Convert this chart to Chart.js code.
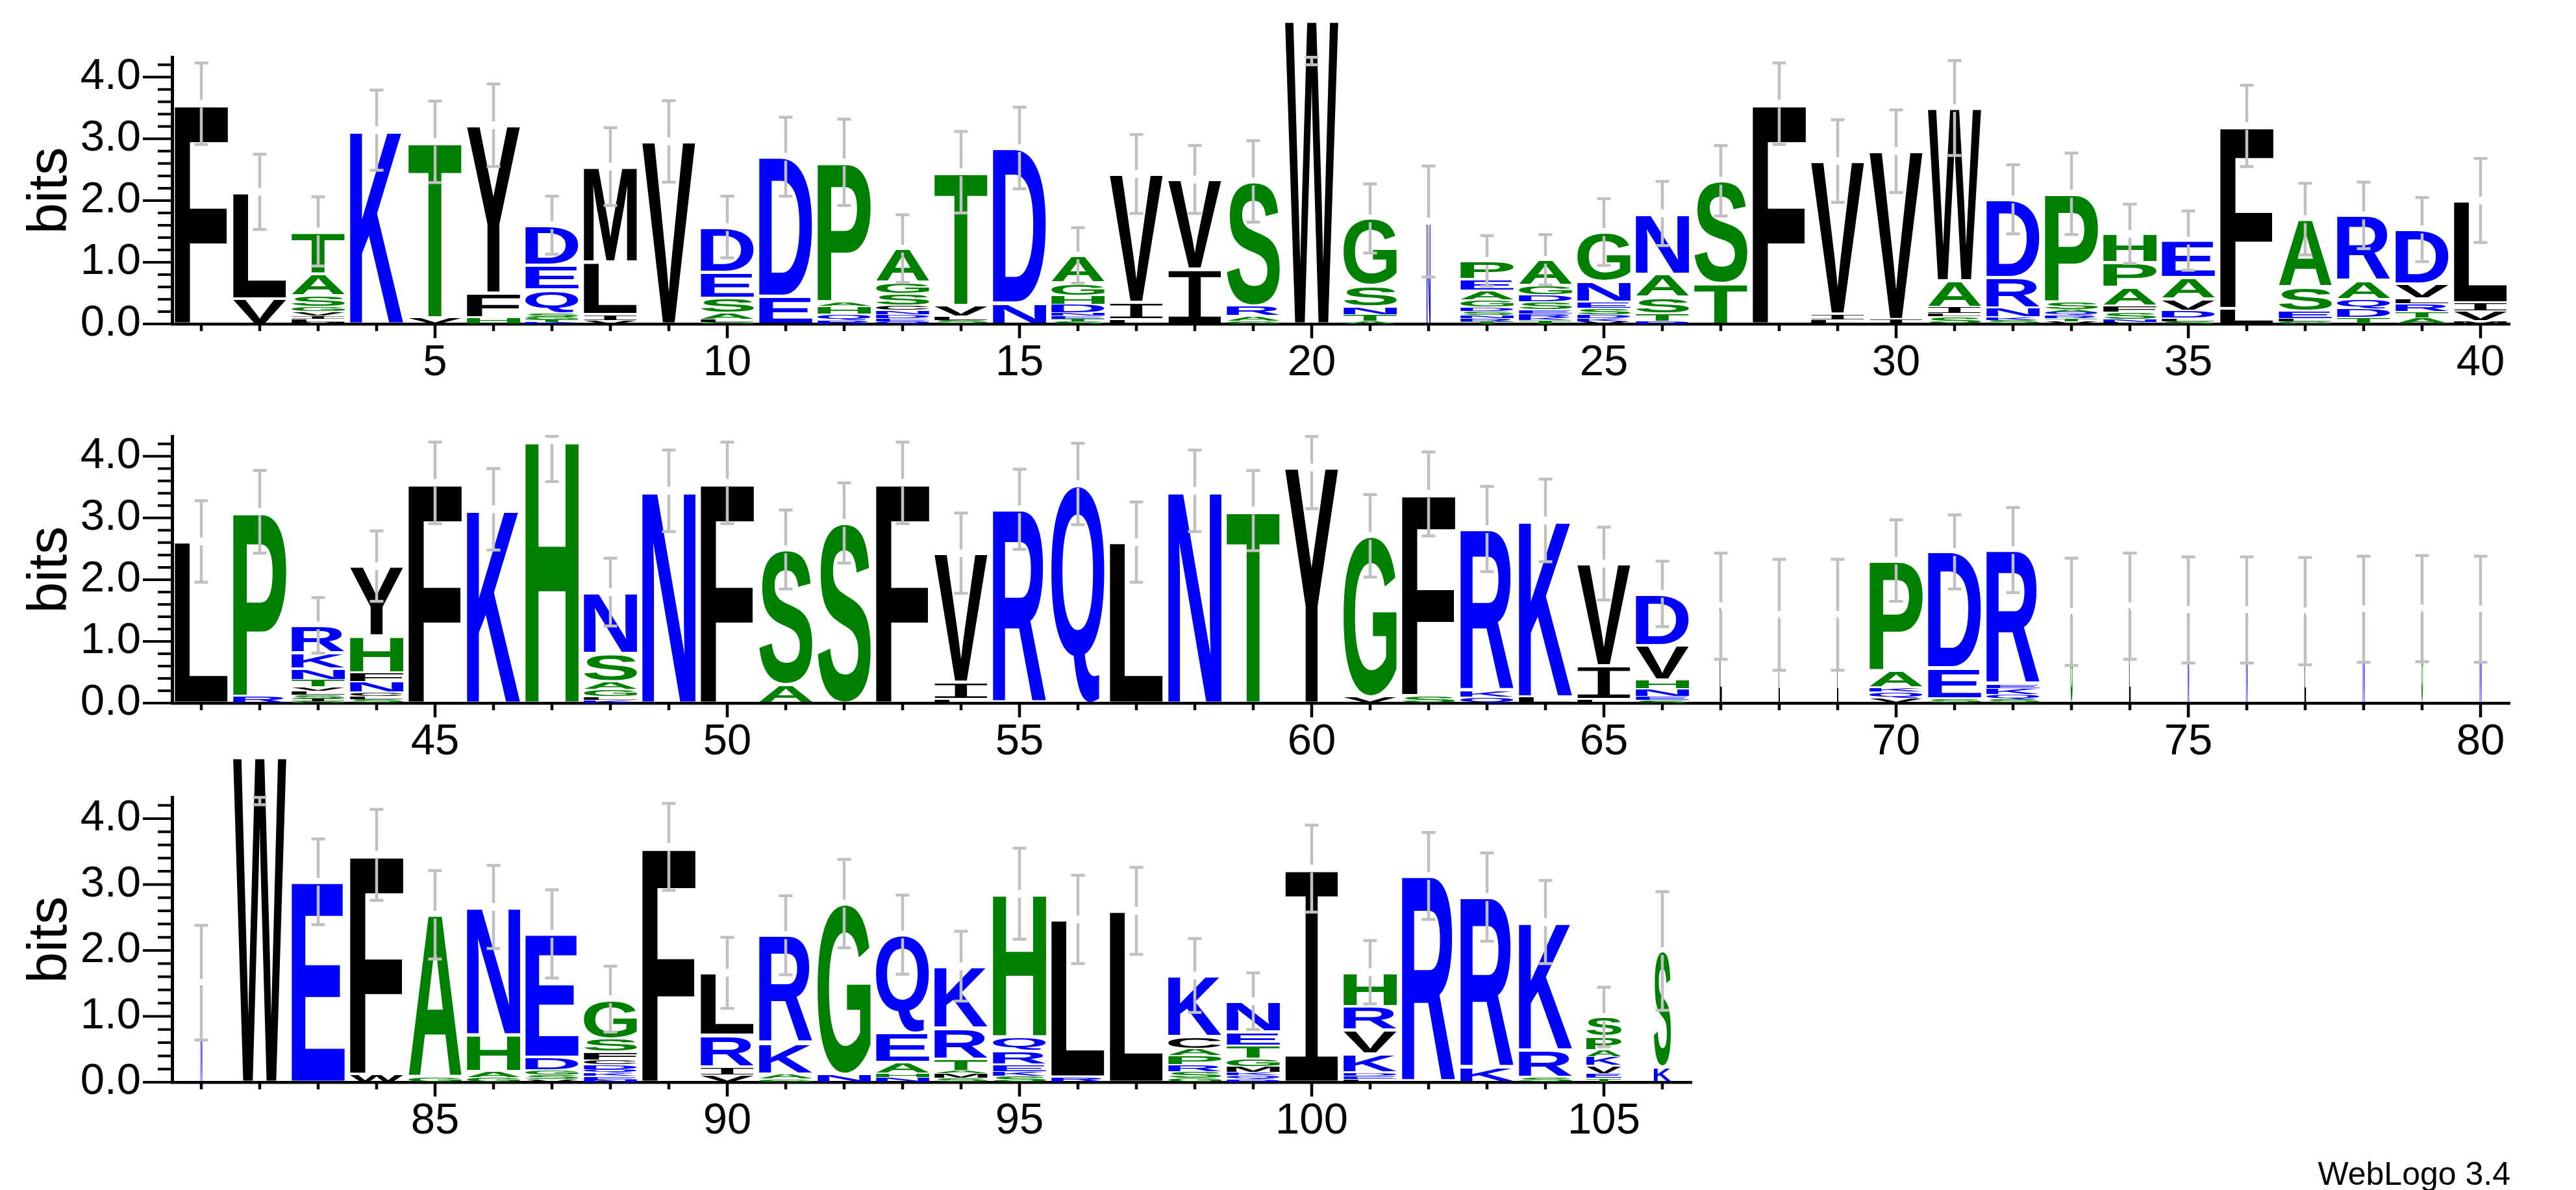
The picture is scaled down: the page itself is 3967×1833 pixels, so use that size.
<!DOCTYPE html>
<html>
<head>
<meta charset="utf-8">
<script src="https://cdn.jsdelivr.net/npm/chart.js@4.4.1/dist/chart.umd.min.js"></script>
<style>
  html, body { margin: 0; padding: 0; background: #fff; }
  #page { position: relative; width: 3967px; height: 1833px; overflow: hidden; background: #fff; }
  canvas { position: absolute; left: 0; }
  #credit {
    position: absolute; right: 101px; top: 1783px;
    font: 50px "Liberation Sans", Arial, sans-serif; line-height: 1; color: #000;
  }
</style>
</head>
<body>
<div id="page">
  <canvas id="row1" width="3967" height="600" style="top:0px"></canvas>
  <canvas id="row2" width="3967" height="600" style="top:584px"></canvas>
  <canvas id="row3" width="3967" height="693" style="top:1140px"></canvas>
  <div id="credit">WebLogo 3.4</div>
</div>
<script>
// residues of each column, bottom of the stack first
const residues = [
  "F", "VL", "MLIVGSAT", "K", "VT", "HFY", "KTGSQED", "VILM", "V", "GLASED",
  "ED", "RQHAP", "QEDNCSGA", "SLVT", "ND", "STENDHGA", "LIV", "IV", "GARS", "W",
  "ATNSG", "N", "TRNSDGAEP", "TKRESDGA", "VKDSENG", "DTSAN", "TS", "F", "LIV", "IV",
  "SLIAW", "SKNRD", "VTRQASP", "LNSFAPH", "SLDVAE", "LF", "GLESA", "TDQAR", "ATRLVD", "MVIL",
  "L", "RP", "GISLVTNKR", "SLCNFHY", "F", "K", "H", "KLGASN", "N", "F",
  "AS", "S", "F", "LIV", "R", "Q", "L", "N", "T", "Y",
  "VG", "SF", "QKR", "LK", "LIV", "SENHVD", "L", "L", "L", "VQKAP",
  "SED", "SQKER", "G", "L", "N", "N", "L", "N", "G", "N",
  "N", "W", "E", "WF", "GA", "GAHN", "VSGDE", "NEKQDCFSG", "F", "VIRL",
  "GAKR", "NG", "NHAEQ", "SMATRK", "SKERQH", "RL", "L", "GSRPACK", "DQKMGTEN", "I",
  "LEDKVRH", "R", "KR", "SRK", "TEVKAPS", "KS"
];

// information (bits) of each residue, same order as above
const bits = [
  [3.57], [0.41, 1.73], [0.03, 0.05, 0.05, 0.07, 0.08, 0.18, 0.36, 0.68], [3.14], [0.1, 2.85],
  [0.1, 0.4, 2.72], [0.03, 0.04, 0.04, 0.06, 0.38, 0.4, 0.65], [0.06, 0.09, 0.85, 1.55], [2.96], [0.03, 0.05, 0.1, 0.24, 0.42, 0.73],
  [0.45, 2.26], [0.06, 0.1, 0.13, 0.07, 2.26], [0.04, 0.05, 0.06, 0.07, 0.08, 0.19, 0.18, 0.55], [0.06, 0.06, 0.18, 2.16], [0.34, 2.51],
  [0.04, 0.04, 0.05, 0.05, 0.14, 0.14, 0.2, 0.45], [0.07, 0.28, 2.08], [0.89, 1.45], [0.05, 0.08, 0.16, 2.02], [4.92],
  [0.04, 0.11, 0.13, 0.34, 1.09], [1.66], [0.04, 0.05, 0.05, 0.06, 0.07, 0.12, 0.15, 0.18, 0.3], [0.06, 0.04, 0.06, 0.07, 0.13, 0.11, 0.15, 0.42], [0.04, 0.05, 0.06, 0.1, 0.1, 0.34, 0.8],
  [0.04, 0.12, 0.27, 0.38, 0.98], [0.66, 1.66], [3.57], [0.07, 0.09, 2.48], [0.07, 2.73],
  [0.12, 0.05, 0.1, 0.43, 2.8], [0.06, 0.05, 0.14, 0.5, 1.27], [0.04, 0.05, 0.05, 0.05, 0.04, 0.13, 1.75], [0.03, 0.04, 0.12, 0.1, 0.3, 0.4, 0.47], [0.04, 0.05, 0.13, 0.18, 0.35, 0.6],
  [0.25, 2.96], [0.04, 0.04, 0.12, 0.4, 1.1], [0.1, 0.14, 0.16, 0.3, 1.06], [0.1, 0.1, 0.13, 0.08, 0.24, 0.88], [0.05, 0.16, 0.13, 1.66],
  [2.62], [0.11, 2.99], [0.03, 0.04, 0.06, 0.06, 0.07, 0.12, 0.18, 0.25, 0.45], [0.06, 0.05, 0.06, 0.18, 0.14, 0.6, 1.13], [3.57],
  [3.14], [4.26], [0.05, 0.05, 0.12, 0.13, 0.46, 0.99], [3.44], [3.57],
  [0.3, 2.19], [2.92], [3.57], [0.06, 0.28, 2.09], [3.14],
  [3.55], [2.61], [3.44], [3.12], [3.82],
  [0.1, 2.61], [0.12, 3.27], [0.1, 0.1, 2.62], [0.1, 2.86], [0.06, 0.55, 1.65],
  [0.05, 0.06, 0.12, 0.14, 0.56, 0.84], [1.57], [1.43], [1.43], [0.08, 0.1, 0.07, 0.27, 1.79],
  [0.07, 0.5, 1.88], [0.06, 0.08, 0.1, 0.07, 2.17], [1.48], [1.57], [1.51],
  [1.51], [1.49], [1.52], [1.53], [1.52],
  [1.51], [4.94], [3.04], [0.12, 3.33], [0.07, 2.47],
  [0.07, 0.09, 0.56, 1.94], [0.04, 0.07, 0.07, 0.2, 1.87], [0.04, 0.05, 0.05, 0.05, 0.08, 0.07, 0.12, 0.2, 0.6], [3.57], [0.11, 0.12, 0.48, 0.95],
  [0.05, 0.07, 0.47, 1.64], [0.12, 2.59], [0.07, 0.06, 0.17, 0.45, 1.49], [0.06, 0.07, 0.04, 0.18, 0.47, 0.94], [0.09, 0.07, 0.11, 0.2, 0.22, 2.17],
  [0.08, 2.39], [2.6], [0.06, 0.1, 0.11, 0.13, 0.11, 0.18, 0.93], [0.05, 0.05, 0.05, 0.09, 0.12, 0.2, 0.2, 0.47], [3.24],
  [0.05, 0.05, 0.04, 0.29, 0.36, 0.36, 0.52], [3.13], [0.22, 2.59], [0.07, 0.42, 1.94], [0.06, 0.07, 0.12, 0.14, 0.1, 0.2, 0.3],
  [0.23, 1.76]
];

// half height of the error bar above / below each stack (bits)
const errorBars = [
  0.66, 0.61, 0.56, 0.65, 0.66, 0.67, 0.47, 0.63, 0.66, 0.5,
  0.64, 0.7, 0.55, 0.66, 0.66, 0.45, 0.64, 0.55, 0.66, 0.72,
  0.56, 0.9, 0.41, 0.41, 0.54, 0.52, 0.57, 0.66, 0.67, 0.67,
  0.77, 0.56, 0.66, 0.48, 0.48, 0.66, 0.58, 0.54, 0.52, 0.68,
  0.66, 0.67, 0.45, 0.57, 0.66, 0.66, 0.67, 0.55, 0.66, 0.66,
  0.64, 0.65, 0.66, 0.65, 0.65, 0.66, 0.65, 0.66, 0.65, 0.67,
  0.67, 0.68, 0.69, 0.67, 0.59, 0.53, 0.86, 0.9, 0.9, 0.66,
  0.6, 0.69, 0.87, 0.86, 0.86, 0.86, 0.87, 0.86, 0.86, 0.86,
  0.87, 0.73, 0.65, 0.69, 0.67, 0.63, 0.67, 0.5, 0.66, 0.54,
  0.6, 0.67, 0.6, 0.53, 0.69, 0.67, 0.66, 0.56, 0.43, 0.66,
  0.48, 0.66, 0.67, 0.63, 0.45, 0.9
];

// fraction of non-gap sequences in each column (stack width)
const columnWeights = [
  1, 1, 1, 1, 1, 1, 1, 1, 1, 1,
  1, 1, 1, 1, 1, 1, 1, 1, 1, 1,
  1, 0.075, 1, 1, 1, 1, 1, 1, 1, 1,
  1, 1, 1, 1, 1, 1, 1, 1, 1, 1,
  1, 1, 1, 1, 1, 1, 1, 1, 1, 1,
  1, 1, 1, 1, 1, 1, 1, 1, 1, 1,
  1, 1, 1, 1, 1, 1, 0.04, 0.025, 0.025, 1,
  1, 1, 0.04, 0.03, 0.03, 0.03, 0.03, 0.035, 0.03, 0.035,
  0.035, 1, 1, 1, 1, 1, 1, 1, 1, 1,
  1, 1, 1, 1, 1, 1, 1, 1, 1, 1,
  1, 1, 1, 1, 0.66, 0.32
];

const rowRanges = [[1, 40], [41, 80], [81, 106]];
const yTickValues = [0, 1, 2, 3, 4];
const maxBits = Math.log2(20);

function colorOf(letter) {
  if ("RKDENQ".includes(letter)) return "#0000ff";
  if ("SGHTAP".includes(letter)) return "#008000";
  return "#000000";
}

const glyphCache = {};
function glyphMetrics(ctx, letter) {
  if (!glyphCache[letter]) {
    const font = letter === "I" ? '200px "Liberation Mono"' : 'bold 200px "Liberation Sans"';
    ctx.font = font;
    const m = ctx.measureText(letter);
    glyphCache[letter] = {
      font: font,
      left: m.actualBoundingBoxLeft,
      asc: m.actualBoundingBoxAscent,
      w: m.actualBoundingBoxLeft + m.actualBoundingBoxRight,
      h: m.actualBoundingBoxAscent + m.actualBoundingBoxDescent,
    };
  }
  return glyphCache[letter];
}

function drawGlyph(ctx, letter, x0, y0, w, h) {
  const pad = Math.min(2.5, h * 0.08);
  const gh = h - 2 * pad;
  if (w <= 0 || gh <= 0.3) return;
  const g = glyphMetrics(ctx, letter);
  ctx.save();
  ctx.font = g.font;
  ctx.textAlign = "left";
  ctx.textBaseline = "alphabetic";
  ctx.fillStyle = colorOf(letter);
  ctx.translate(x0, y0 + pad);
  ctx.scale(w / g.w, gh / g.h);
  ctx.fillText(letter, g.left, g.asc);
  ctx.restore();
}

function drawErrorBar(ctx, yScale, px, total, err) {
  const hi = Math.min(maxBits, total + err);
  const lo = Math.max(0, total - err);
  const yHi = yScale.getPixelForValue(hi);
  const yLo = yScale.getPixelForValue(lo);
  const yTop = yScale.getPixelForValue(total);
  const gap = 6;
  ctx.save();
  ctx.strokeStyle = "#c0c0c0";
  ctx.lineWidth = 4.5;
  ctx.beginPath();
  if (total < maxBits) {
    if (yTop - gap > yHi) {
      ctx.moveTo(px, yHi);
      ctx.lineTo(px, yTop - gap);
    }
    ctx.moveTo(px, yTop + gap);
    ctx.lineTo(px, yLo);
  } else {
    ctx.moveTo(px, yHi);
    ctx.lineTo(px, yLo);
  }
  ctx.moveTo(px - 10.5, yHi);
  ctx.lineTo(px + 10.5, yHi);
  ctx.moveTo(px - 10.5, yLo);
  ctx.lineTo(px + 10.5, yLo);
  ctx.stroke();
  ctx.restore();
}

const logoPlugin = {
  id: "logo",
  afterDraw(chart, args, opts) {
    const { ctx, chartArea } = chart;
    const x = chart.scales.x;
    const y = chart.scales.y;
    const first = opts.first;
    const labels = chart.data.labels;

    // tick marks
    ctx.save();
    ctx.strokeStyle = "#000";
    ctx.lineWidth = 4;
    ctx.beginPath();
    for (let k = 0; k <= 21; k++) {
      const py = y.getPixelForValue(k / 5);
      const len = k % 5 === 0 ? 45 : 22;
      ctx.moveTo(chartArea.left - len, py);
      ctx.lineTo(chartArea.left, py);
    }
    ctx.stroke();
    ctx.lineWidth = 4.5;
    ctx.beginPath();
    labels.forEach((l, i) => {
      const px = x.getPixelForValue(i);
      const len = Number(l) % 5 === 0 ? 22 : 11;
      ctx.moveTo(px, chartArea.bottom);
      ctx.lineTo(px, chartArea.bottom + len);
    });
    ctx.stroke();
    ctx.restore();

    // letters
    chart.data.datasets.forEach((ds, k) => {
      chart.getDatasetMeta(k).data.forEach((bar, i) => {
        const v = ds.data[i];
        if (!v) return;
        const pos = first + i;
        const letter = residues[pos - 1][k];
        const w = bar.width * columnWeights[pos - 1];
        drawGlyph(ctx, letter, bar.x - w / 2, bar.y, w, bar.base - bar.y);
      });
    });

    // error bars
    labels.forEach((l, i) => {
      const pos = first + i;
      const total = bits[pos - 1].reduce((a, b) => a + b, 0);
      drawErrorBar(ctx, y, x.getPixelForValue(i), total, errorBars[pos - 1]);
    });
  },
};

function makeRow(canvasId, range, padTop, padRight, xHeight) {
  const [first, last] = range;
  const labels = [];
  for (let p = first; p <= last; p++) labels.push(String(p));
  let depth = 0;
  labels.forEach((l, i) => { depth = Math.max(depth, bits[first - 1 + i].length); });
  const datasets = [];
  for (let k = 0; k < depth; k++) {
    datasets.push({
      data: labels.map((l, i) => {
        const v = bits[first - 1 + i][k];
        return v === undefined ? null : v;
      }),
      backgroundColor: "rgba(0,0,0,0)",
      borderWidth: 0,
      categoryPercentage: 1,
      barPercentage: 0.91,
    });
  }

  new Chart(document.getElementById(canvasId), {
    type: "bar",
    data: { labels: labels, datasets: datasets },
    options: {
      animation: false,
      responsive: false,
      devicePixelRatio: 1,
      events: [],
      layout: { padding: { top: padTop, right: padRight, left: 0, bottom: 0 } },
      plugins: {
        legend: { display: false },
        tooltip: { enabled: false },
        logo: { first: first },
      },
      scales: {
        x: {
          stacked: true,
          offset: true,
          grid: { display: false, drawTicks: false },
          border: { display: true, color: "#000", width: 4.5 },
          ticks: {
            autoSkip: false,
            maxRotation: 0,
            minRotation: 0,
            padding: 20,
            color: "#000",
            font: { family: "Liberation Sans", size: 67 },
            callback: function (value) {
              const l = this.getLabelForValue(value);
              return Number(l) % 5 === 0 ? l : "";
            },
          },
          afterFit: (s) => { s.height = xHeight; },
        },
        y: {
          stacked: true,
          min: 0,
          max: maxBits,
          grid: { display: false, drawTicks: false },
          border: { display: true, color: "#000", width: 5 },
          ticks: {
            stepSize: 1,
            includeBounds: false,
            padding: 48,
            color: "#000",
            font: { family: "Liberation Sans", size: 67 },
            callback: (v) => (yTickValues.includes(v) ? v.toFixed(1) : ""),
          },
          title: {
            display: true,
            text: "bits",
            color: "#000",
            font: { family: "Liberation Sans", size: 86 },
            padding: { top: 27, bottom: 0 },
          },
          afterFit: (s) => { s.width = 265; },
        },
      },
    },
    plugins: [logoPlugin],
  });
}

makeRow("row1", rowRanges[0], 48, 102, 101);
makeRow("row2", rowRanges[1], 48, 102, 101);
makeRow("row3", rowRanges[2], 76, 1362, 166);
</script>
</body>
</html>
